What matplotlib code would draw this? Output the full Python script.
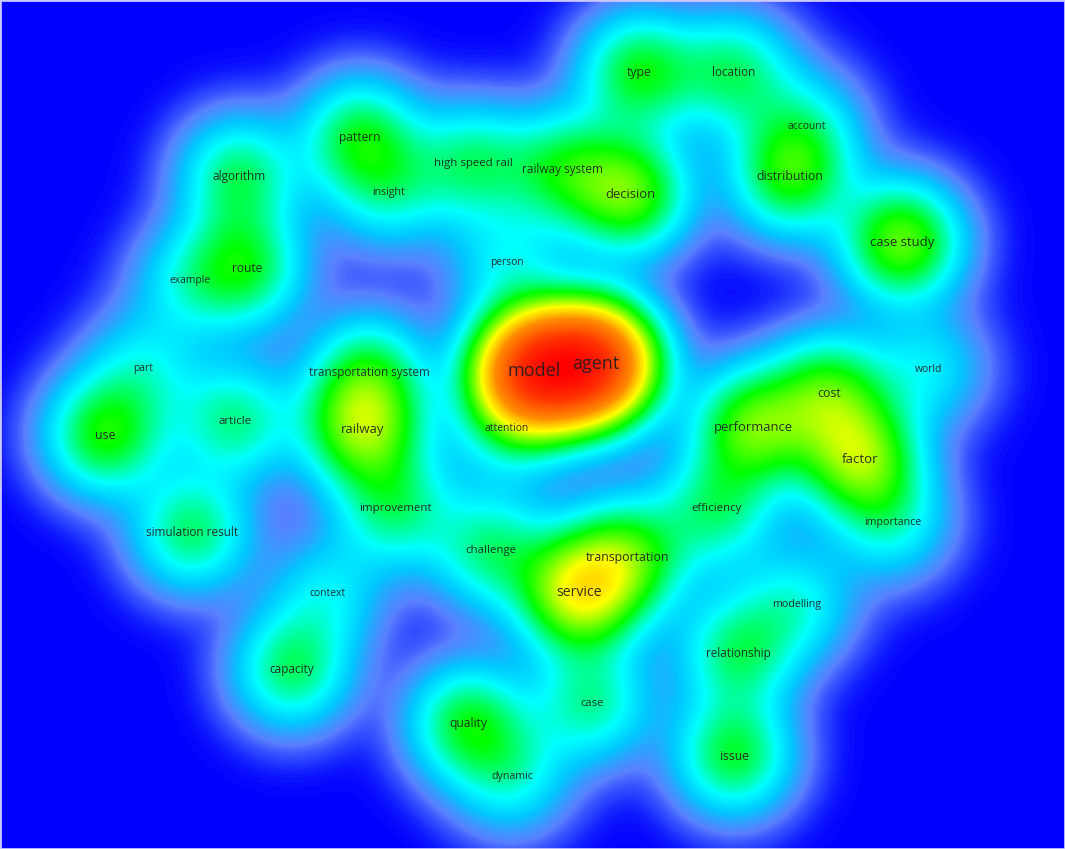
import numpy as np
import matplotlib.pyplot as plt
from matplotlib.colors import LinearSegmentedColormap

plt.rcParams['font.family'] = ['Open Sans', 'DejaVu Sans']

# keyword map: label, map position (x, y), weight (occurrences)
labels = ['model', 'agent', 'type', 'location', 'account', 'pattern',
          'high speed rail', 'railway system', 'decision', 'insight',
          'algorithm', 'distribution', 'case study', 'person', 'route',
          'example', 'part', 'transportation system', 'world', 'cost',
          'use', 'article', 'railway', 'attention', 'performance', 'factor',
          'improvement', 'efficiency', 'importance', 'simulation result',
          'challenge', 'transportation', 'service', 'context', 'modelling',
          'relationship', 'capacity', 'case', 'quality', 'issue', 'dynamic']
map_x = [534, 596, 639, 734, 807, 360, 473, 563, 630, 389, 239, 790, 902,
         507, 247, 190, 143, 369, 929, 829, 105, 235, 363, 507, 753, 860,
         395, 717, 893, 192, 491, 628, 579, 327, 797, 738, 292, 592, 468,
         734, 512]
map_y = [371, 364, 72, 72, 126, 137, 163, 169, 194, 192, 176, 176, 242,
         262, 268, 281, 368, 372, 369, 393, 435, 421, 429, 428, 427, 459,
         508, 509, 523, 532, 550, 557, 593, 594, 604, 653, 670, 703, 723,
         756, 777]
weights = [10, 10, 2.6, 2.1, 1.2, 2.4, 2, 2.2, 3.3, 1.4, 2.2, 2.7, 3.5, 1.2,
           2.3, 1.2, 1.2, 2.1, 1.2, 2.8, 2.8, 2, 3.5, 1.2, 3.3, 3.6, 2, 2,
           1.4, 2.2, 2, 2.8, 4.4, 1.2, 1.4, 2.1, 2.2, 1.9, 2.5, 2.5, 1.4]

W, H = 1065, 849
sigma = 40.0

# kernel density over the map
gx, gy = np.meshgrid(np.arange(W) + 0.5, np.arange(H) + 0.5)
dens = np.zeros((H, W))
for x, y, w in zip(map_x, map_y, weights):
    r2 = (gx - x) ** 2 + (gy - y) ** 2
    dens += w * np.exp(-r2 / (2 * sigma ** 2))
dens /= dens.max()

cmap = LinearSegmentedColormap.from_list('vos', [
    (0.000, (0.0, 0.0, 1.0)),
    (0.010, (0.15, 0.25, 1.0)),
    (0.025, (0.35, 0.50, 1.0)),
    (0.060, (0.0, 0.78, 1.0)),
    (0.100, (0.0, 1.0, 1.0)),
    (0.145, (0.0, 1.0, 0.5)),
    (0.190, (0.0, 1.0, 0.0)),
    (0.280, (0.65, 1.0, 0.0)),
    (0.330, (1.0, 1.0, 0.0)),
    (0.480, (1.0, 0.55, 0.0)),
    (0.750, (1.0, 0.2, 0.0)),
    (1.000, (1.0, 0.0, 0.0)),
], N=1024)

fig = plt.figure(figsize=(10.65, 8.49), dpi=100)
ax = fig.add_axes([0, 0, 1, 1])
ax.imshow(dens, cmap=cmap, vmin=0, vmax=1, extent=(0, W, H, 0),
          interpolation='bilinear')

for lab, x, y, w in zip(labels, map_x, map_y, weights):
    fs = 4.4 + 2.72 * np.sqrt(w)
    ax.text(x, y, lab, ha='center', va='center', fontsize=fs,
            color='#1e1e1e', alpha=0.9)

ax.set_xlim(0, W)
ax.set_ylim(H, 0)
ax.set_xticks([])
ax.set_yticks([])
for sp in ax.spines.values():
    sp.set_color('#c8c8ff')
    sp.set_linewidth(2)

fig.savefig('out.png', dpi=100)
